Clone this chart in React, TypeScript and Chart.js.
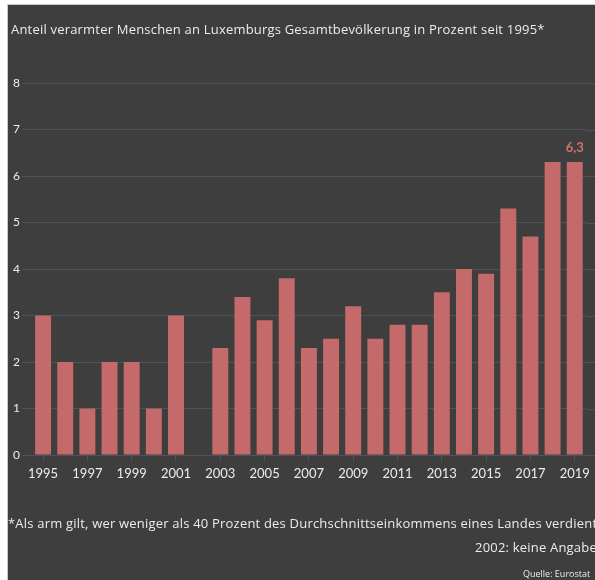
import React, { useEffect, useRef } from "react";
import { Chart, registerables } from "chart.js";

Chart.register(...registerables);

const years = [
  "1995", "1996", "1997", "1998", "1999", "2000", "2001", "2002", "2003", "2004",
  "2005", "2006", "2007", "2008", "2009", "2010", "2011", "2012", "2013", "2014",
  "2015", "2016", "2017", "2018", "2019",
];
const povertyShare: (number | null)[] = [
  3, 2, 1, 2, 2, 1, 3, null, 2.3, 3.4,
  2.9, 3.8, 2.3, 2.5, 3.2, 2.5, 2.8, 2.8, 3.5, 4.0,
  3.9, 5.3, 4.7, 6.3, 6.3,
];
const yTicks = [0, 1, 2, 3, 4, 5, 6, 7, 8];

const titleText = "Anteil verarmter Menschen an Luxemburgs Gesamtbevölkerung in Prozent seit 1995*";
const noteText = "*Als arm gilt, wer weniger als 40 Prozent des Durchschnittseinkommens eines Landes verdient";
const missingText = "2002: keine Angabe";
const sourceText = "Quelle: Eurostat";

const BG = "#3e3e3e";
const BAR = "#c46a6a";
const LABEL = "#d2706e";
const GRID = "#4b5459";
const TEXT = "#ececec";
const FONT = "Lato, 'Open Sans', sans-serif";
const TEXT_FONT = "'Open Sans', Lato, sans-serif";

export default function App() {
  const ref = useRef<HTMLCanvasElement | null>(null);

  useEffect(() => {
    if (!ref.current) return;

    const gridExtend = {
      id: "gridExtend",
      beforeDatasetsDraw(chart: any) {
        const { ctx, chartArea, scales } = chart;
        const y = scales.y;
        ctx.save();
        ctx.strokeStyle = GRID;
        ctx.lineWidth = 1;
        y.ticks.forEach((t: any) => {
          const py = Math.round(y.getPixelForValue(t.value)) + 0.5;
          ctx.beginPath();
          ctx.moveTo(chartArea.right, py);
          ctx.lineTo(chart.width, py);
          ctx.stroke();
        });
        ctx.restore();
      },
    };

    const lastLabel = {
      id: "lastLabel",
      afterDatasetsDraw(chart: any) {
        const { ctx } = chart;
        const meta = chart.getDatasetMeta(0);
        const idx = povertyShare.length - 1;
        const el = meta.data[idx];
        const v = povertyShare[idx];
        if (!el || v == null) return;
        ctx.save();
        ctx.fillStyle = LABEL;
        ctx.font = `bold 13px ${FONT}`;
        ctx.textAlign = "center";
        ctx.textBaseline = "bottom";
        ctx.fillText(String(v).replace(".", ","), el.x, el.y - 8);
        ctx.restore();
      },
    };

    const chart = new Chart(ref.current, {
      type: "bar",
      data: {
        labels: years,
        datasets: [
          {
            data: povertyShare,
            backgroundColor: BAR,
            borderWidth: 0,
            categoryPercentage: 1,
            barPercentage: 0.72,
          },
        ],
      },
      options: {
        animation: false,
        responsive: false,
        maintainAspectRatio: false,
        layout: { padding: { left: 5, right: 9, top: 78, bottom: 85 } },
        plugins: {
          legend: { display: false },
          tooltip: { enabled: false },
          title: { display: false },
        },
        scales: {
          x: {
            border: { display: false },
            grid: {
              offset: false,
              drawOnChartArea: false,
              drawTicks: true,
              tickLength: 6,
              color: GRID,
              tickColor: (c: any) => (c.index % 2 === 0 ? GRID : "rgba(0,0,0,0)"),
            },
            ticks: {
              autoSkip: false,
              maxRotation: 0,
              minRotation: 0,
              padding: 5,
              color: TEXT,
              font: { family: FONT, size: 13 },
              callback: (_v: any, i: number) => (i % 2 === 0 ? years[i] : ""),
            },
            afterFit: (s: any) => {
              s.height = 40;
            },
          },
          y: {
            min: 0,
            max: 8,
            border: { display: false },
            grid: { color: GRID, tickLength: 10, drawTicks: true },
            afterBuildTicks: (s: any) => {
              s.ticks = yTicks.map((v) => ({ value: v }));
            },
            ticks: {
              crossAlign: "far",
              color: TEXT,
              font: { family: FONT, size: 12 },
            },
            afterFit: (s: any) => {
              s.width = 19;
            },
          },
        },
      },
      plugins: [gridExtend, lastLabel],
    } as any);

    return () => chart.destroy();
  }, []);

  const textBase: React.CSSProperties = {
    position: "absolute",
    whiteSpace: "nowrap",
    color: TEXT,
    fontFamily: TEXT_FONT,
    fontSize: 13,
    lineHeight: "16px",
    letterSpacing: "0.2px",
  };

  return (
    <div
      style={{
        position: "absolute",
        left: 7,
        top: 4,
        width: 588,
        height: 576,
        boxSizing: "border-box",
        borderTop: "1px solid #c9c9c9",
        borderLeft: "1px solid #c9c9c9",
        background: BG,
        overflow: "hidden",
      }}
    >
      <canvas
        ref={ref}
        width={587}
        height={575}
        style={{ position: "absolute", left: 0, top: 0, width: 587, height: 575 }}
      />
      <div style={{ ...textBase, left: 3, top: 16 }}>{titleText}</div>
      <div style={{ ...textBase, left: 0, top: 510 }}>{noteText}</div>
      <div style={{ ...textBase, left: 467, top: 534 }}>{missingText}</div>
      <div style={{ ...textBase, left: 515, top: 563, fontSize: 9, lineHeight: "11px", letterSpacing: 0 }}>{sourceText}</div>
    </div>
  );
}
